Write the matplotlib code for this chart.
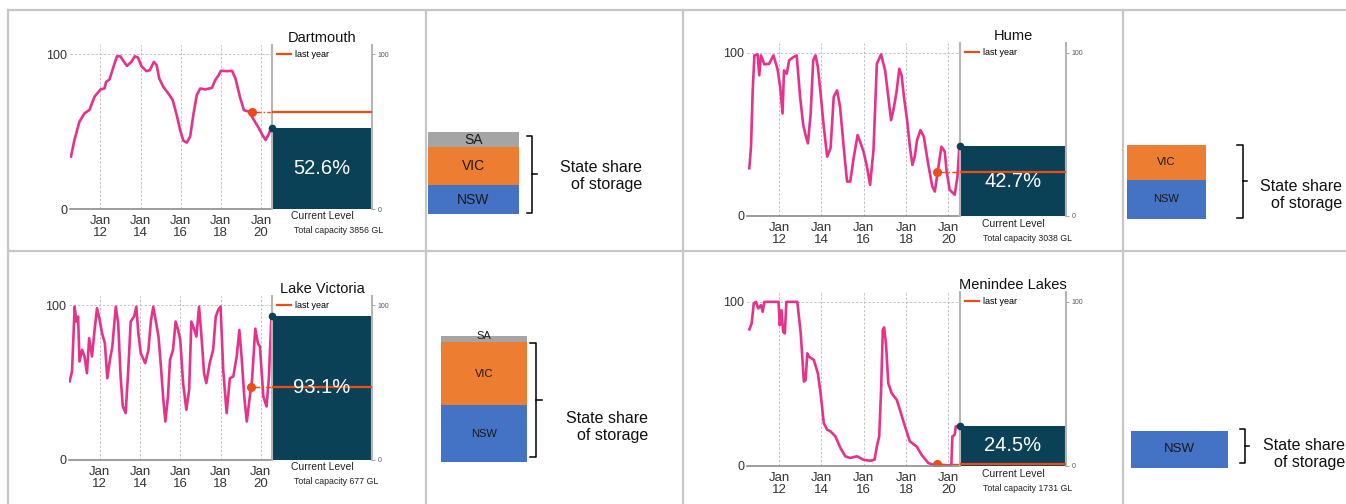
import matplotlib
matplotlib.use('Agg')
import matplotlib.pyplot as plt
from matplotlib.lines import Line2D

plt.rcParams['font.family'] = ['Liberation Sans', 'DejaVu Sans']

# ---- data ----
dart_years = [2010.53, 2010.70, 2010.95, 2011.20, 2011.45, 2011.70, 2012.00, 2012.20, 2012.28,
              2012.45, 2012.62, 2012.82, 2012.99, 2013.12, 2013.32, 2013.54, 2013.71, 2013.87,
              2014.04, 2014.29, 2014.46, 2014.66, 2014.80, 2014.93, 2015.13, 2015.38, 2015.60,
              2015.80, 2015.97, 2016.13, 2016.30, 2016.47, 2016.64, 2016.80, 2016.97, 2017.22,
              2017.56, 2017.72, 2017.89, 2018.00, 2018.31, 2018.56, 2018.73, 2018.95, 2019.15,
              2019.40, 2019.65, 2019.90, 2020.07, 2020.23, 2020.37, 2020.52]
dart_values = [33.9, 44.6, 56.4, 61.8, 64.0, 72.5, 77.3, 77.9, 82.2, 83.7, 90.8, 98.7, 98.7, 96.1,
               92.5, 95.1, 98.7, 97.9, 92.3, 89.1, 89.7, 95.1, 92.9, 84.3, 79.0, 74.7, 70.4, 60.7,
               51.1, 44.2, 42.9, 46.8, 61.8, 73.6, 77.9, 77.3, 78.3, 83.3, 86.5, 89.3, 89.1, 89.3,
               84.3, 72.5, 63.9, 62.9, 57.5, 52.1, 47.9, 44.6, 47.9, 52.6]

hume_years = [2010.59, 2010.67, 2010.75, 2010.83, 2010.98, 2011.06, 2011.14, 2011.30, 2011.53,
              2011.73, 2011.92, 2012.05, 2012.16, 2012.23, 2012.36, 2012.47, 2012.63, 2012.83,
              2012.99, 2013.14, 2013.25, 2013.36, 2013.49, 2013.61, 2013.72, 2013.83, 2013.96,
              2014.11, 2014.27, 2014.43, 2014.58, 2014.74, 2014.88, 2015.05, 2015.21, 2015.36,
              2015.52, 2015.71, 2015.83, 2015.99, 2016.15, 2016.30, 2016.46, 2016.62, 2016.82,
              2017.01, 2017.16, 2017.29, 2017.40, 2017.55, 2017.68, 2017.79, 2017.90, 2018.05,
              2018.18, 2018.30, 2018.41, 2018.52, 2018.68, 2018.84, 2019.04, 2019.24, 2019.36,
              2019.51, 2019.67, 2019.83, 2019.91, 2020.06, 2020.30, 2020.43, 2020.52]
hume_values = [29.3, 42.5, 77.0, 98.4, 99.0, 86.2, 98.4, 92.9, 93.3, 98.4, 90.2, 79.0, 62.8, 89.2,
               87.2, 95.3, 97.0, 98.4, 73.0, 55.7, 49.6, 44.5, 62.8, 95.3, 98.4, 91.3, 75.0, 54.7,
               36.4, 41.5, 73.0, 77.0, 66.9, 42.5, 21.1, 21.1, 35.4, 49.6, 45.5, 39.4, 30.3, 19.1,
               40.4, 93.3, 99.0, 89.2, 73.0, 58.7, 64.8, 76.0, 90.2, 86.2, 73.0, 58.7, 42.5, 31.3,
               36.4, 46.5, 52.6, 48.6, 32.3, 18.1, 15.0, 28.3, 42.5, 39.4, 28.3, 16.1, 13.0, 24.2,
               42.7]

vic_years = [2010.51, 2010.63, 2010.76, 2010.85, 2010.93, 2011.00, 2011.13, 2011.25, 2011.37,
             2011.48, 2011.62, 2011.75, 2011.87, 2012.00, 2012.12, 2012.26, 2012.38, 2012.51,
             2012.63, 2012.80, 2012.92, 2013.04, 2013.15, 2013.29, 2013.42, 2013.54, 2013.71,
             2013.82, 2013.92, 2014.04, 2014.26, 2014.42, 2014.54, 2014.66, 2014.79, 2014.92,
             2015.04, 2015.16, 2015.26, 2015.39, 2015.49, 2015.64, 2015.77, 2015.89, 2016.00,
             2016.14, 2016.30, 2016.44, 2016.55, 2016.67, 2016.80, 2016.93, 2017.04, 2017.18,
             2017.29, 2017.46, 2017.63, 2017.76, 2017.88, 2018.00, 2018.13, 2018.30, 2018.46,
             2018.63, 2018.80, 2018.93, 2019.04, 2019.18, 2019.30, 2019.43, 2019.56, 2019.72,
             2019.85, 2019.95, 2020.12, 2020.28, 2020.40, 2020.52]
vic_values = [50.8, 57.2, 99.1, 89.5, 92.7, 63.7, 71.2, 66.9, 56.1, 78.7, 66.9, 84.1, 98.1, 90.5,
              81.9, 75.5, 52.9, 64.7, 73.3, 99.1, 88.4, 54.0, 34.6, 30.3, 58.3, 89.5, 92.7, 99.1,
              81.9, 69.0, 62.6, 71.2, 89.5, 99.1, 89.5, 79.8, 60.4, 38.9, 24.9, 41.0, 64.7, 71.2,
              89.5, 84.1, 77.6, 49.7, 32.5, 45.4, 89.5, 85.2, 79.8, 99.1, 81.9, 56.1, 49.7, 62.6,
              71.2, 92.7, 97.0, 99.1, 58.3, 30.3, 52.9, 54.0, 66.9, 84.1, 66.9, 40.0, 24.9, 38.9,
              51.8, 84.9, 75.5, 73.3, 41.0, 34.6, 54.0, 93.1]

men_years = [2010.59, 2010.70, 2010.80, 2010.90, 2011.01, 2011.14, 2011.22, 2011.30, 2011.53,
             2011.97, 2012.03, 2012.11, 2012.19, 2012.27, 2012.34, 2012.86, 2013.02, 2013.17,
             2013.25, 2013.33, 2013.41, 2013.64, 2013.83, 2013.96, 2014.11, 2014.27, 2014.43,
             2014.66, 2014.90, 2015.13, 2015.36, 2015.68, 2015.99, 2016.30, 2016.51, 2016.62,
             2016.73, 2016.82, 2016.90, 2016.96, 2017.05, 2017.16, 2017.32, 2017.56, 2017.71,
             2017.95, 2018.18, 2018.50, 2018.73, 2019.05, 2019.28, 2019.51, 2019.91, 2020.14,
             2020.19, 2020.30, 2020.35, 2020.46]
men_values = [83.2, 86.8, 99.0, 100.0, 96.0, 98.0, 93.9, 100.0, 100.0, 100.0, 85.8, 94.9, 81.8,
              80.8, 100.0, 100.0, 80.8, 51.4, 52.4, 68.6, 66.6, 64.6, 56.5, 44.3, 26.1, 22.1,
              21.1, 18.0, 10.9, 5.9, 4.9, 5.9, 3.8, 3.2, 3.8, 11.9, 18.0, 46.4, 82.8, 84.4, 74.7,
              50.4, 44.3, 40.3, 34.2, 24.1, 15.0, 11.9, 6.9, 1.8, 0.8, 0.8, 0.4, 0.4, 18.0, 19.0,
              24.1, 24.5]

names = ['Dartmouth', 'Hume', 'Lake Victoria', 'Menindee Lakes']
current_level = [52.6, 42.7, 93.1, 24.5]
last_year = [63.0, 26.8, 47.3, 1.0]
last_year_date = [2019.53, 2019.45, 2019.53, 2019.48]
capacity = [3856, 3038, 677, 1731]

states = ['NSW', 'VIC', 'SA']
share_dart = [35.1, 46.5, 18.4]
share_hume = [52.9, 47.1, 0.0]
share_vic = [45.1, 50.1, 4.8]
share_men = [100.0, 0.0, 0.0]

year_ticks = [2012, 2014, 2016, 2018, 2020]
year_labels = ['Jan\n12', 'Jan\n14', 'Jan\n16', 'Jan\n18', 'Jan\n20']

PINK = '#e5328b'
DARK = '#0b4156'
ORANGE = '#ef4b17'
STATE_COLORS = {'NSW': '#4472c4', 'VIC': '#ed7d31', 'SA': '#a5a5a5'}

W, H = 1346, 504
fig = plt.figure(figsize=(W / 100, H / 100), dpi=100)


def px_rect(x0, y0, x1, y1):
    return [x0 / W, 1 - y1 / H, (x1 - x0) / W, (y1 - y0) / H]


def fig_line(xs, ys, **kw):
    fig.add_artist(Line2D([x / W for x in xs], [1 - y / H for y in ys],
                          transform=fig.transFigure, **kw))


def draw_reservoir(i, years, values, main_box, cur_box):
    ax = fig.add_axes(px_rect(*main_box))
    ax.plot(years, values, color=PINK, lw=1.9, solid_joinstyle='round')
    ax.set_xlim(2010.48, 2020.55)
    ax.set_ylim(0, 106)
    ax.set_xticks(year_ticks)
    ax.set_xticklabels(year_labels, fontsize=9.5, color='#333333', linespacing=1.05)
    ax.set_yticks([0, 100])
    ax.set_yticklabels(['0', '100'], fontsize=9, color='#333333')
    ax.tick_params(axis='both', length=0, pad=2)
    ax.tick_params(axis='x', pad=4)
    ax.grid(True, ls=(0, (3, 2)), lw=0.6, color='#bcbcbc')
    for s in ['top', 'right', 'left']:
        ax.spines[s].set_visible(False)
    ax.spines['bottom'].set_color('#8c8c8c')
    ax.spines['bottom'].set_linewidth(1.2)
    # last year marker
    ax.hlines(last_year[i], last_year_date[i], 2020.55, colors=ORANGE, lw=1, ls='-.')
    ax.plot(last_year_date[i], last_year[i], 'o', color=ORANGE, ms=5.5)

    cur = fig.add_axes(px_rect(*cur_box))
    cur.set_xlim(0, 1)
    cur.set_ylim(0, 106)
    cur.bar(0.5, current_level[i], width=1, color=DARK, zorder=2)
    cur.axhline(last_year[i], color=ORANGE, lw=1.6, label='last year', zorder=3)
    cur.plot(0, current_level[i], 'o', color=DARK, ms=4.5, clip_on=False, zorder=4)
    cur.text(0.5, current_level[i] / 2, f'{current_level[i]}%', color='white',
             fontsize=14.5, ha='center', va='center', zorder=5)
    cur.set_xticks([])
    cur.yaxis.tick_right()
    cur.set_yticks([0, 100])
    cur.set_yticklabels(['0', '100'], fontsize=5, color='#555555')
    cur.tick_params(axis='y', length=2.5, width=0.6, color='#999999', pad=1.5)
    for s in ['top', 'bottom']:
        cur.spines[s].set_visible(False)
    for s in ['left', 'right']:
        cur.spines[s].set_color('#b5b5b5')
        cur.spines[s].set_linewidth(1.5)
    cur.set_title(names[i], fontsize=10.5, pad=2, color='#111111')
    cur.legend(loc='upper left', frameon=False, fontsize=6.5, handlelength=1.6,
               handletextpad=0.45, borderaxespad=0.15, borderpad=0.4)
    cur.text(0.5, -0.015, 'Current Level', transform=cur.transAxes, fontsize=7.5,
             ha='center', va='top', color='#222222')
    cur.text(0.22, -0.13, f'Total capacity {capacity[i]} GL', transform=cur.transAxes,
             fontsize=6.3, ha='left', va='center', color='#222222')


def draw_shares(shares, box, bracket, text_xy, label_size):
    ax = fig.add_axes(px_rect(*box))
    bottom = 0
    for state, share in zip(states, shares):
        if share <= 0:
            continue
        ax.bar(0.5, share, width=1, bottom=bottom, color=STATE_COLORS[state])
        y = bottom + share / 2 if share > 10 else bottom + share
        ax.text(0.5, y, state, ha='center', va='center', fontsize=label_size, color='#1a1a1a')
        bottom += share
    ax.set_xlim(0, 1)
    ax.set_ylim(0, 100)
    ax.axis('off')
    # bracket: vertical x, left serif x, tick x, top, middle, bottom
    bx, sx, tx, y0, ym, y1 = bracket
    fig_line([sx, bx, bx, sx], [y0, y0, y1, y1], color='black', lw=1.1)
    fig_line([bx, tx], [ym, ym], color='black', lw=1.1)
    fig.text(text_xy[0] / W, 1 - text_xy[1] / H, 'State share\nof storage', ha='right',
             va='center', multialignment='right', fontsize=11.5, linespacing=1.2,
             color='#111111')


draw_reservoir(0, dart_years, dart_values, (70, 45, 272, 209), (272, 45, 372, 209))
draw_reservoir(1, hume_years, hume_values, (747, 43, 960, 216), (960, 43, 1066, 216))
draw_reservoir(2, vic_years, vic_values, (69, 296, 272, 460), (272, 296, 372, 460))
draw_reservoir(3, men_years, men_values, (747, 292, 960, 466), (960, 292, 1066, 466))

draw_shares(share_dart, (428, 132, 519, 214), (532, 527, 537, 136, 174, 213), (642, 176), 10)
draw_shares(share_hume, (1127, 145, 1206, 219), (1243, 1237, 1247, 145, 181, 218), (1342, 195), 8)
draw_shares(share_vic, (441, 336, 527, 462), (536, 530, 542, 343, 400, 457), (648, 427), 8)
draw_shares(share_men, (1131, 431, 1228, 468), (1245, 1240, 1249, 429, 446, 463), (1345, 454), 9.5)

# table borders
border = dict(color='#c6c6c6', lw=1.6)
fig_line([8, W], [10, 10], **border)
fig_line([8, W], [251, 251], **border)
for x in [8, 425.5, 683, 1123]:
    fig_line([x, x], [10, H], **border)

fig.savefig('out.png', dpi=100)
